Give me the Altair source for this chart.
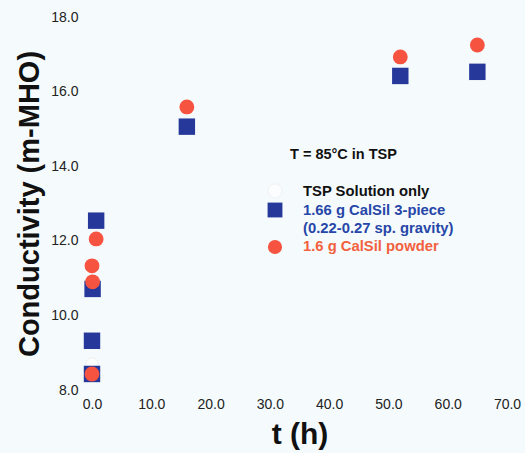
import altair as alt
import pandas as pd

# ---- data ----
t_calsil_piece = [0.0, 0.0, 0.1, 0.7, 16.0, 52.0, 65.0]
c_calsil_piece = [8.43, 9.32, 10.71, 12.54, 15.06, 16.42, 16.53]

t_calsil_powder = [0.0, 0.1, 0.0, 0.7, 16.0, 52.0, 65.0]
c_calsil_powder = [8.43, 10.9, 11.33, 12.05, 15.59, 16.93, 17.25]

t_tsp_only = [0.0]
c_tsp_only = [8.7]

x_ticks = [0, 10, 20, 30, 40, 50, 60, 70]
y_ticks = [8, 10, 12, 14, 16, 18]

legend_lines = ["TSP Solution only", "1.66 g CalSil 3-piece", "(0.22-0.27 sp. gravity)", "1.6 g CalSil powder"]
legend_colors = ["#111111", "#2646a8", "#2646a8", "#f2603e"]
annotation = "T = 85°C in TSP"

BLUE = "#26389a"
RED = "#f65440"
FONT = "Liberation Sans"

W, H = 415, 373

df_piece = pd.DataFrame({"t": t_calsil_piece, "c": c_calsil_piece})
df_powder = pd.DataFrame({"t": t_calsil_powder, "c": c_calsil_powder})
df_tsp = pd.DataFrame({"t": t_tsp_only, "c": c_tsp_only})

xscale = alt.Scale(domain=[0, 70], nice=False, zero=False)
yscale = alt.Scale(domain=[8, 18], nice=False, zero=False)

xenc = alt.X("t:Q", scale=xscale, axis=alt.Axis(
    values=x_ticks, format=".1f", title="t (h)", grid=False, domain=False, ticks=False,
    labelFlush=False, labelOverlap=False,
    labelFont=FONT, labelFontSize=14, labelColor="#222222", labelPadding=7,
    titleFont=FONT, titleFontSize=30, titleFontWeight="bold", titleColor="#111111", titlePadding=8))
yenc = alt.Y("c:Q", scale=yscale, axis=alt.Axis(
    values=y_ticks, format=".1f", title="Conductivity (m-MHO)", grid=False, domain=False, ticks=False,
    labelFlush=False, labelOverlap=False,
    labelFont=FONT, labelFontSize=14, labelColor="#222222", labelPadding=14,
    titleFont=FONT, titleFontSize=29, titleFontWeight="bold", titleColor="#111111", titlePadding=6))

tsp = alt.Chart(df_tsp).mark_point(shape="circle", filled=True, fill="white", stroke="#dddddd",
                                   strokeWidth=0.6, size=150, clip=False).encode(x=xenc, y=yenc)
piece = alt.Chart(df_piece).mark_point(shape="square", filled=True, color=BLUE, opacity=1,
                                       size=270, clip=False).encode(x=xenc, y=yenc)
powder = alt.Chart(df_powder).mark_point(shape="circle", filled=True, color=RED, opacity=1,
                                         size=220, clip=False).encode(x=xenc, y=yenc)

one = pd.DataFrame({"k": [0]})

# annotation and hand-built legend (pixel positions inside the plot area)
ann = alt.Chart(pd.DataFrame({"txt": [annotation]})).mark_text(
    font=FONT, fontSize=14.5, fontWeight="bold", color="#111111", align="left", baseline="middle"
).encode(x=alt.value(198), y=alt.value(138), text="txt:N")

legend_y = [175, 194, 212, 230]
leg_layers = []
for txt, col, yy in zip(legend_lines, legend_colors, legend_y):
    leg_layers.append(
        alt.Chart(pd.DataFrame({"txt": [txt]})).mark_text(
            font=FONT, fontSize=14.8, fontWeight="bold", align="left", baseline="middle", color=col
        ).encode(x=alt.value(211), y=alt.value(yy), text="txt:N")
    )

sym_tsp = alt.Chart(one).mark_point(
    shape="circle", filled=True, fill="white", stroke="#e2e2e2", strokeWidth=0.6, size=200
).encode(x=alt.value(183), y=alt.value(174))
sym_sq = alt.Chart(one).mark_point(
    shape="square", filled=True, color=BLUE, opacity=1, size=220
).encode(x=alt.value(183), y=alt.value(193))
sym_ci = alt.Chart(one).mark_point(
    shape="circle", filled=True, color=RED, opacity=1, size=200
).encode(x=alt.value(183), y=alt.value(230))

chart = alt.layer(tsp, piece, powder, ann, *leg_layers, sym_tsp, sym_sq, sym_ci).properties(
    width=W, height=H,
    autosize=alt.AutoSizeParams(type="none"),
    padding={"left": 92, "top": 17, "right": 18, "bottom": 63},
    background="#f5fbfc",
).configure_view(stroke=None)

chart.save("out.html", embed_options={"renderer": "svg", "actions": False})
